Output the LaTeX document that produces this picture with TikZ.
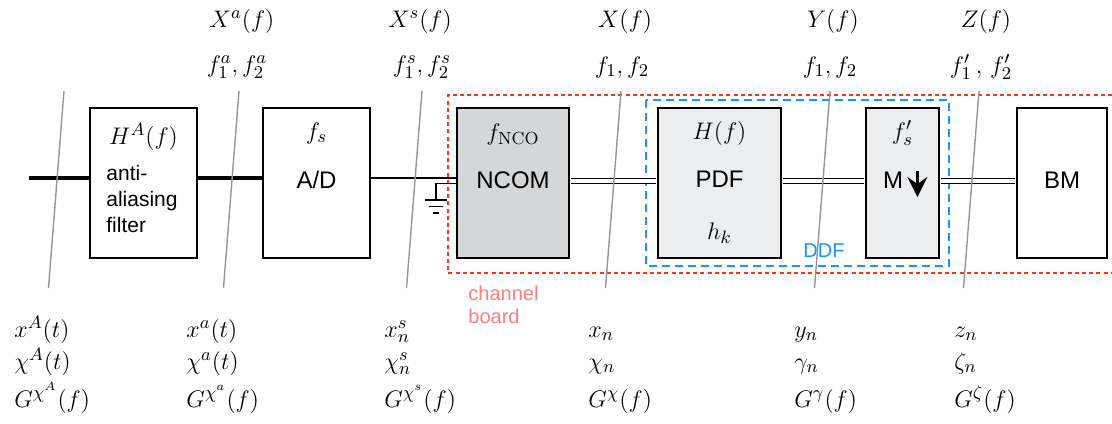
\documentclass[tikz,border=0pt]{standalone}
\usepackage{fontspec}
\setsansfont{Liberation Sans}
\usetikzlibrary{arrows.meta}

\definecolor{ncomgray}{RGB}{212,214,216}
\definecolor{pdfgray}{RGB}{236,237,239}
\definecolor{chanred}{RGB}{242,56,30}
\definecolor{chanpink}{RGB}{250,128,128}
\definecolor{ddfblue}{RGB}{24,150,240}
\definecolor{slashgray}{RGB}{150,150,150}

\tikzset{
blk/.style={draw, line width=1pt, minimum width=#1, minimum height=75pt, inner sep=0pt},
txt/.style={font=\fontsize{12}{14}\selectfont\sffamily},
thickbus/.style={line width=2pt},
sig/.style={line width=0.75pt},
cplx/.style={double, line width=0.85pt, double distance=1.65pt, shorten <=0.5pt, shorten >=0.5pt},
slash/.style={draw=slashgray, line width=0.7pt},
chanline/.style={draw=chanred, line width=0.9pt, dash pattern=on 2pt off 1.6pt},
ddfline/.style={draw=ddfblue, line width=1pt, dash pattern=on 4pt off 2.5pt}
}

\begin{document}
\begin{tikzpicture}[
x=0.5pt, y=-0.5pt,
every node/.style={
font=\fontsize{12.5}{15}\selectfont,
inner sep=0pt
}
]
\useasboundingbox (0,0) rectangle (1112,423);

% channel board and DDF frames
\draw[chanline] (1112,95) -- (448,95) -- (448,273) -- (1112,273);
\node[txt, font=\fontsize{10}{11.5}\selectfont\sffamily, text=chanpink, align=left, anchor=north west] (chan) at (468,286)
{channel\\board};
\draw[ddfline] (646,100) rectangle (949,266);
\node[txt, font=\fontsize{10}{12}\selectfont\sffamily, text=ddfblue] (ddf) at (824,251)
{DDF};

% blocks
\node[blk=53.5pt] (AAF) at (143.5,183) {};
\node[blk=53.5pt] (AD) at (316.5,183) {};
\node[blk=56pt, fill=ncomgray] (NCOM) at (513,183) {};
\node[blk=61.5pt, fill=pdfgray] (PDF) at (719.5,183) {};
\node[blk=36.5pt, fill=pdfgray] (Mdec) at (902.5,183) {};
\node[blk=45pt] (BM) at (1062,183) {};

\node (HA) at (143.5,137) {$H^A(f)$};
\node[txt, font=\fontsize{10.5}{13}\selectfont\sffamily, align=left, anchor=west] (aaftxt) at (106,199)
{anti-\\aliasing\\filter};
\node (fsam) at (316.5,133) {$f_s$};
\node[txt] (adtxt) at (316.5,180) {A/D};
\node (fnco) at (513,134) {$f_{\mathrm{NCO}}$};
\node[txt] (ncomtxt) at (513,180) {NCOM};
\node (Hf) at (719.5,133) {$H(f)$};
\node[txt] (pdftxt) at (719.5,179) {PDF};
\node (hk) at (719.5,233) {$h_k$};
\node (fsp) at (902.5,133) {$f'_s$};
\node[txt] (Mtxt) at (893,180) {M};
\draw[line width=1.3pt, -{Stealth[length=10pt, width=10pt, inset=3.5pt]}]
([xshift=7pt, yshift=4.5pt]Mtxt.east) -- ([xshift=7pt, yshift=-8.5pt]Mtxt.east);
\node[txt] (bmtxt) at (1062,180) {BM};

% signal path
\coordinate (in) at (29,178);
\coordinate (gnd) at (436,200);
\draw[thickbus] (in) -- ([yshift=2.5pt]AAF.west);
\draw[thickbus] ([yshift=2.5pt]AAF.east) -- ([yshift=2.5pt]AD.west);
\draw[sig] ([yshift=2.5pt]AD.east) -- ([yshift=2.5pt]NCOM.west);
\draw[sig] ([yshift=-0.25pt]NCOM.west) -| (gnd);
\draw[sig] ([xshift=-5.5pt]gnd) -- ([xshift=5.5pt]gnd);
\draw[sig] ([xshift=-3.5pt, yshift=-3.2pt]gnd) -- ([xshift=3.5pt, yshift=-3.2pt]gnd);
\draw[sig] ([xshift=-1.5pt, yshift=-6.4pt]gnd) -- ([xshift=1.5pt, yshift=-6.4pt]gnd);
\draw[cplx] ([yshift=1pt]NCOM.east) -- ([yshift=1pt]PDF.west);
\draw[cplx] ([yshift=1pt]PDF.east) -- ([yshift=1pt]Mdec.west);
\draw[cplx] ([yshift=1pt]Mdec.east) -- ([yshift=1pt]BM.west);

% cut marks
\foreach \x in {64,239,422,621,830,979}
\draw[slash] (\x,91) -- (\x-15.5,288);

% spectra above
\node (Xa) at (242,21) {$X^a(f)$};
\node (fa) at (237,67) {$f_1^a, f_2^a$};
\node (Xs) at (420,21) {$X^s(f)$};
\node (fs) at (422,67) {$f_1^s, f_2^s$};
\node (X) at (625,21) {$X(f)$};
\node (fx) at (622,67) {$f_1, f_2$};
\node (Y) at (833,21) {$Y(f)$};
\node (fy) at (830,67) {$f_1, f_2$};
\node (Z) at (986,21) {$Z(f)$};
\node (fz) at (981,67) {$f'_1\,,\, f'_2$};

% signals below
\foreach \x/\p/\q/\r [count=\i] in {
14/{x^A(t)}/{\chi^A(t)}/{G^{\chi^A}(f)},
186/{x^a(t)}/{\chi^a(t)}/{G^{\chi^a}(f)},
384/{x^s_n}/{\chi^s_n}/{G^{\chi^s}(f)},
588/{x_n}/{\chi_n}/{G^{\chi}(f)},
794/{y_n}/{\gamma_n}/{G^{\gamma}(f)},
954/{z_n}/{\zeta_n}/{G^{\zeta}(f)}}
{
\node[anchor=base west] (sig\i) at (\x,337) {$\p$};
\node[anchor=base west] (chi\i) at (\x,369) {$\q$};
\node[anchor=base west] (G\i) at (\x,407) {$\r$};
}

\end{tikzpicture}
\end{document}
